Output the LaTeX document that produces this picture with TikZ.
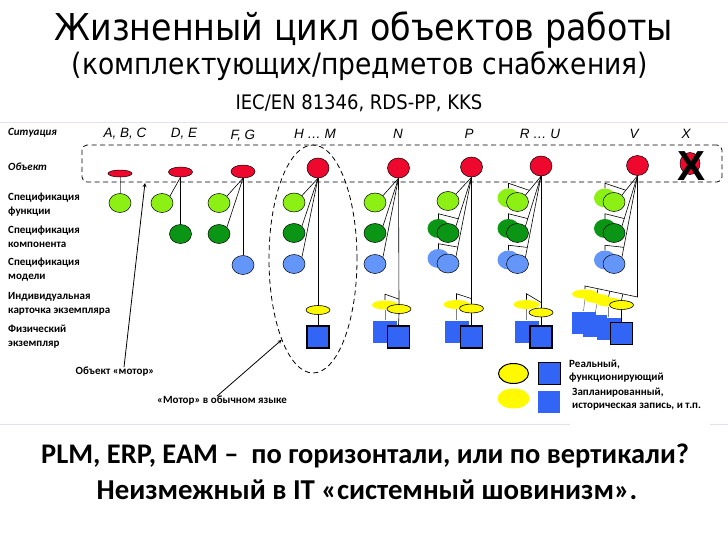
\documentclass[tikz,border=0pt]{standalone}
\usepackage{fontspec}
\setmainfont{Carlito}
\newfontfamily\headfont{DejaVu Sans Condensed}
\newfontfamily\arialfont{Liberation Sans}
\usetikzlibrary{shapes.geometric, arrows, calc, backgrounds}
\definecolor{objred}{RGB}{238,8,45}
\definecolor{funcgreen}{RGB}{140,240,20}
\definecolor{compgreen}{RGB}{10,150,20}
\definecolor{modelblue}{RGB}{100,150,250}
\definecolor{cardyellow}{RGB}{255,250,0}
\definecolor{physblue}{RGB}{50,100,245}
\definecolor{slideline}{RGB}{232,222,242}
\tikzstyle{situation} = [font=\arialfont\itshape\fontsize{13.5}{13.5}\selectfont]
\tikzstyle{rowlabel} = [anchor=west, align=left, inner sep=0pt, font=\bfseries\fontsize{11}{14}\selectfont]
\tikzstyle{object} = [ellipse, draw=black, line width=0.5pt, fill=objred, minimum width=22pt, minimum height=20pt, inner sep=0pt]
\tikzstyle{function} = [ellipse, draw=black, line width=0.5pt, fill=funcgreen, minimum width=22pt, minimum height=19pt, inner sep=0pt]
\tikzstyle{component} = [ellipse, draw=black, line width=0.5pt, fill=compgreen, minimum width=22pt, minimum height=19pt, inner sep=0pt]
\tikzstyle{model} = [ellipse, draw=black, line width=0.5pt, fill=modelblue, minimum width=22pt, minimum height=19pt, inner sep=0pt]
\tikzstyle{card} = [ellipse, draw=black, line width=0.6pt, fill=cardyellow, minimum width=24pt, minimum height=9pt, inner sep=0pt]
\tikzstyle{physical} = [rectangle, draw=black, line width=1.3pt, fill=physblue, minimum size=22pt, inner sep=0pt]
\tikzstyle{planned} = [draw=none]
\tikzstyle{link} = [line width=0.6pt]
\tikzstyle{faint} = [line width=0.6pt, gray]
\tikzstyle{pointer} = [line width=0.8pt, -stealth]
\tikzstyle{note} = [font=\bfseries\fontsize{11}{13.5}\selectfont, align=left, inner sep=0pt]

\begin{document}
\begin{tikzpicture}[x=1pt, y=-1pt]
    \useasboundingbox (0,0) rectangle (728,546);
    \draw[slideline, line width=1pt] (0,122) -- (728,122);
    \draw[slideline, line width=1pt] (0,424) -- (570,424) (710,424) -- (728,424);

    % titles
    \node (title) at (364,30) {\headfont\fontsize{37}{40}\selectfont Жизненный цикл объектов работы};
    \node (subtitle) at (360,66) {\headfont\fontsize{29.5}{32}\selectfont (комплектующих/предметов снабжения)};
    \node (norms) at (359,103) {\headfont\fontsize{20}{22}\selectfont IEC/EN 81346, RDS-PP, KKS};
    \node (question) at (365,456) {\bfseries\fontsize{28.4}{32}\selectfont PLM, ERP, EAM --\ \ по горизонтали, или по вертикали?};
    \node (chauvinism) at (367,490) {\bfseries\fontsize{28.8}{32}\selectfont Неизмежный в IT «системный шовинизм».};

    % row labels
    \node[rowlabel] (lsit) at (8,133) {\itshape Ситуация};
    \node[rowlabel] (lobj) at (8,167) {\itshape Объект};
    \node[rowlabel] (lfun) at (8,205) {Спецификация\\функции};
    \node[rowlabel] (lcomp) at (8,237) {Спецификация\\компонента};
    \node[rowlabel] (lmod) at (8,270) {Спецификация\\модели};
    \node[rowlabel] (lcard) at (8,304) {Индивидуальная\\карточка экземпляра};
    \node[rowlabel] (lphys) at (8,337) {Физический\\экземпляр};

    % situations
    \node[situation] (sabc) at (125,134) {A, B, C};
    \node[situation] (sde) at (184,134) {D, E};
    \node[situation] (sfg) at (243,136) {F, G};
    \node[situation] (shm) at (315,134) {H … M};
    \node[situation] (sn) at (398,134) {N};
    \node[situation] (sp) at (469,134) {P};
    \node[situation] (sru) at (540,134) {R … U};
    \node[situation] (sv) at (634,134) {V};
    \node[situation] (sx) at (686,134) {X};

    \node[draw, dashed, dash pattern=on 5pt off 3.5pt, line width=0.8pt, rounded corners=5pt, minimum width=640pt, minimum height=37pt] (band) at (402,163.5) {};
    \node[draw, ellipse, dashed, dash pattern=on 5pt off 3.5pt, line width=0.8pt, minimum width=88pt, minimum height=228pt] (ring) at (313,259) {};

    % A, B, C
    \node[object, minimum width=24pt, minimum height=7pt] (abc) at (120,173.5) {};
    \node[function] (abcf) at (120,203) {};
    % D, E
    \node[object, minimum width=24pt, minimum height=10pt] (de) at (180.5,172) {};
    \node[function] (def) at (162,203) {};
    \node[component] (dec) at (180.5,234) {};
    % F, G
    \node[object, minimum width=24pt, minimum height=13pt] (fg) at (243,171.5) {};
    \node[function] (fgf) at (219,203) {};
    \node[component] (fgc) at (219,234) {};
    \node[model] (fgm) at (243,265) {};
    % H ... M
    \node[object] (hm) at (318,168) {};
    \node[function] (hmf) at (294,202.5) {};
    \node[component] (hmc) at (294,233) {};
    \node[model] (hmm) at (294,264) {};
    \node[card] (hmy) at (318,310) {};
    \node[physical] (hmp) at (318,337) {};
    % N
    \node[object] (n) at (398.5,168) {};
    \node[function] (nf) at (375,202.5) {};
    \node[component] (nc) at (375,233) {};
    \node[model] (nm) at (375,264) {};
    \node[card, planned, minimum width=26pt] (npy) at (385,305) {};
    \node[physical, planned, minimum width=24pt] (npp) at (385,332) {};
    \node[card] (ny) at (399,309) {};
    \node[physical] (np) at (398.5,337) {};
    % P
    \node[object] (p) at (471.5,167) {};
    \node[function] (pf) at (448,201) {};
    \node[component, planned] (pcx) at (438.5,228.5) {};
    \node[component] (pc) at (448,233) {};
    \node[model, planned] (pmx) at (438.5,258.5) {};
    \node[model] (pm) at (448,263.5) {};
    \node[card, planned, minimum width=26pt] (ppy) at (456.5,304.5) {};
    \node[physical, planned, minimum width=24pt] (ppp) at (456.5,331.5) {};
    \node[card] (py) at (471.5,308.5) {};
    \node[physical] (pp) at (471.5,337) {};
    % R ... U
    \node[object] (ru) at (541,166) {};
    \node[function, planned] (rufx) at (508.5,198) {};
    \node[function] (ruf) at (517.5,202) {};
    \node[component, planned] (rucx) at (508.5,228.5) {};
    \node[component] (ruc) at (517.5,233) {};
    \node[model, planned] (rumx) at (508.5,260) {};
    \node[model] (rum) at (517.5,264) {};
    \node[card, planned, minimum width=26pt] (rupy) at (526.5,304.5) {};
    \node[physical, planned, minimum width=24pt] (rupp) at (526.5,331.5) {};
    \node[card] (ruy) at (541,312.5) {};
    \node[physical] (rup) at (541,337) {};
    % V
    \node[object] (v) at (637.5,165.5) {};
    \node[function, planned] (vfx) at (605,198) {};
    \node[function] (vf) at (614,202) {};
    \node[component, planned] (vcx) at (605,228.5) {};
    \node[component] (vc) at (614,233) {};
    \node[model, planned] (vmx) at (605,260) {};
    \node[model] (vm) at (614,264) {};
    \node[card, planned, minimum width=26pt] (vpy1) at (585,294) {};
    \node[card, planned, minimum width=26pt] (vpy2) at (597,298.5) {};
    \node[card, planned, minimum width=26pt] (vpy3) at (608.5,302) {};
    \node[physical, planned, minimum width=24pt] (vpp1) at (583.5,322.5) {};
    \node[physical, planned, minimum width=24pt] (vpp2) at (595,326) {};
    \node[physical, planned, minimum width=24pt] (vpp3) at (608.5,328.5) {};
    \node[card] (vy) at (621.5,305) {};
    \node[physical] (vp) at (621.5,333.5) {};
    % X
    \node[object, minimum width=20pt, minimum height=22pt] (x) at (690,163.5) {};
    \node[font=\arialfont\bfseries\fontsize{42}{42}\selectfont, inner sep=0pt] (xcross) at (691,166) {X};

    % legend
    \node[card, minimum width=30pt, minimum height=20pt, line width=1pt] (legy) at (513.5,373.5) {};
    \node[physical] (legp) at (549.5,373.5) {};
    \node[card, planned, minimum width=32pt, minimum height=20pt] (legpy) at (513.5,398.5) {};
    \node[physical, planned] (legpp) at (548.5,401.5) {};
    \node[note, anchor=west] (legreal) at (569,371) {Реальный,\\функционирующий};
    \node[note, anchor=west] (legplan) at (572,399) {Запланированный,\\историческая запись, и т.п.};

    % captions
    \node[note] (motorobj) at (115,372) {Объект «мотор»};
    \node[note] (motorword) at (222,401) {«Мотор» в обычном языке};
    \coordinate (bandtip) at (145,183);
    \draw[pointer] ([xshift=9pt]motorobj.north) -- (bandtip);
    \draw[pointer] ([xshift=-5pt]motorword.north) -- (ring.south west);

    \begin{scope}[on background layer]
        \draw[faint] (abc) -- (abcf);
        \draw[link] (de.south) -- (def.north east);
        \draw[link] (de.south) -- (dec.north);
        \draw[link] (fg.south) -- (fgf.north east);
        \draw[link] (fg.south) -- (fgc.north east);
        \draw[link] (fg.south) -- (fgm.north);

        \foreach \c in {hm,n,p,ru,v} {
            \draw[link] (\c.south) -- (\c f.north east);
            \draw[link] (\c.south) -- (\c c.north east);
            \draw[link] (\c.south) -- (\c m.north east);
        }
        \foreach \c in {hm,n,p,ru} {
            \draw[link] (\c.south) -- (\c y.north);
        }
        \foreach \c in {hm,n,p,ru,v} {
            \draw[link] (\c y.south) -- (\c p.north);
        }

        % planned items
        \foreach \c in {n,p,ru} {
            \draw[link] (\c py.north) -- ++(0,-6) -- ($(\c.south)!0.96!(\c y.north)$);
            \draw[faint] (\c py.south) -- (\c pp.north);
        }
        \foreach \c in {p,ru,v} {
            \draw[link] (\c cx.north) -- ++(0,-5) -- ($(\c.south)!0.85!(\c c.north east)$);
            \draw[link] (\c mx.north) -- ++(0,-5) -- ($(\c.south)!0.88!(\c m.north east)$);
        }
        \foreach \c in {ru,v} {
            \draw[link] (\c fx.north) -- ++(0,-5) -- ($(\c.south)!0.75!(\c f.north east)$);
        }
        \coordinate (vstair) at (585,286);
        \coordinate (vjoin) at (637.5,297);
        \draw[link] (v.south) -- (vjoin) -- (vstair) -- (vpy1.north);
        \foreach \k in {vpy2,vpy3,vy} {
            \draw[link] (\k.north) -- ($(vstair)!(\k.north)!(vjoin)$);
        }
        \foreach \k in {1,2,3} {
            \draw[faint] (vpy\k.south) -- (vpp\k.north);
        }
    \end{scope}
\end{tikzpicture}
\end{document}
